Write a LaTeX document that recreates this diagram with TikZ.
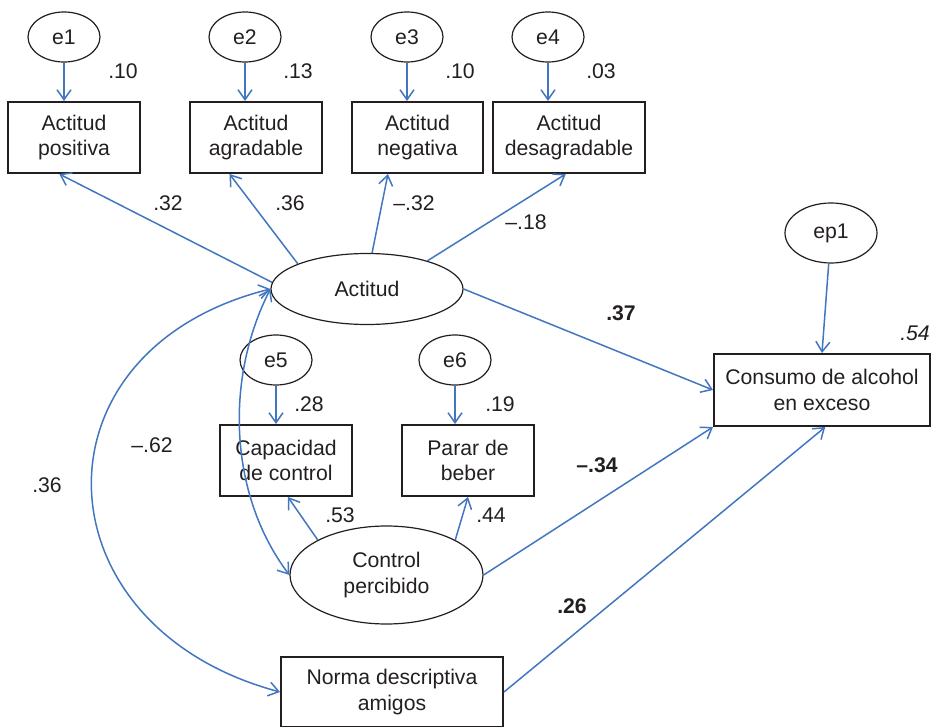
\documentclass[tikz,border=0pt]{standalone}
\usepackage{fontspec}
\setmainfont{Liberation Sans}
\usetikzlibrary{shapes.geometric,arrows.meta,calc}
\definecolor{pathblue}{RGB}{66,118,192}
\definecolor{ink}{RGB}{35,31,32}

\begin{document}
\begin{tikzpicture}[
    x=0.5pt,y=0.5pt,
    font=\fontsize{10.6}{12.7}\selectfont, text=ink,
    >={Straight Barb[length=5pt,width=7pt]},
    box/.style={draw=ink, line width=1pt, align=center, inner sep=0pt,
      minimum width=66pt, minimum height=35.5pt},
    err/.style={draw=ink, line width=0.6pt, ellipse, inner sep=0pt,
      minimum width=36pt, minimum height=25pt},
    lat/.style={draw=ink, line width=0.6pt, ellipse, inner sep=0pt, align=center},
    line/.style={pathblue, line width=0.75pt, ->},
    both/.style={pathblue, line width=0.75pt, <->}
    ]
    \useasboundingbox (0,0) rectangle (932,-727);
    \node[err] (e1) at (64,-37) {e1};
    \node[err] (e2) at (245,-37) {e2};
    \node[err] (e3) at (407,-37) {e3};
    \node[err] (e4) at (548,-37) {e4};
    \node[box] (pos) at (74,-137.5) {Actitud\\positiva};
    \node[box] (agr) at (256,-137.5) {Actitud\\agradable};
    \node[box, minimum width=65.5pt] (neg) at (417.5,-137.5) {Actitud\\negativa};
    \node[box, minimum width=76pt] (des) at (569,-137.5) {Actitud\\desagradable};
    \node[lat, minimum width=96pt, minimum height=35.5pt] (act) at (367,-289) {Actitud};
    \node[err, minimum width=46pt, minimum height=30pt] (ep1) at (831,-233) {ep1};
    \node[box, minimum width=108pt, minimum height=36pt] (cons) at (822,-390) {Consumo de alcohol\\en exceso};
    \node[err] (e5) at (276,-360) {e5};
    \node[err] (e6) at (455,-360) {e6};
    \node[box] (cap) at (286,-460.5) {Capacidad\\de control};
    \node[box] (par) at (468,-460.5) {Parar de\\beber};
    \node[lat, minimum width=96.5pt, minimum height=49pt] (ctrl) at (386.5,-575) {Control\\percibido};
    \node[box, minimum width=111pt, minimum height=35pt] (norma) at (392,-692) {Norma descriptiva\\amigos};

    \draw[line] (e1) -- (e1 |- pos.north);
    \draw[line] (e2) -- (e2 |- agr.north);
    \draw[line] (e3) -- (e3 |- neg.north);
    \draw[line] (e4) -- (e4 |- des.north);
    \draw[line] (e5) -- (e5 |- cap.north);
    \draw[line] (e6) -- (e6 |- par.north);
    \draw[line] (ep1) -- (cons.north);
    \draw[line] (act.176) -- (pos.248);
    \draw[line] (act.160) -- (agr.234);
    \draw[line] (act.82) -- (neg.231);
    \draw[line] (act.25) -- (des.265);
    \draw[line] (act.east) -- (cons.west);
    \draw[line] (ctrl.153) -- (cap.273);
    \draw[line] (ctrl.27) -- (par.south);
    \draw[line] (ctrl.east) -- (cons.south west);
    \draw[line] (norma.east) -- (cons.-85);
    \draw[both] (act.west) to[out=194, in=165, looseness=1.6] (norma.west);
    \draw[both] (act.west) to[out=243, in=127, looseness=0.9] (ctrl.west);

    \node (l1) at (123,-71) {.10};
    \node (l2) at (298,-71) {.13};
    \node (l3) at (460,-71) {.10};
    \node (l4) at (601,-71) {.03};
    \node (lpos) at (168,-203) {.32};
    \node (lagr) at (290,-203) {.36};
    \node (lneg) at (414,-203) {--.32};
    \node (ldes) at (526,-222) {--.18};
    \node[font=\fontsize{10.6}{12.7}\selectfont\bfseries] (lact) at (621,-313) {.37};
    \node[font=\fontsize{10.6}{12.7}\selectfont\itshape] (lcons) at (915,-333) {.54};
    \node (l5) at (309,-404) {.28};
    \node (l6) at (500,-404) {.19};
    \node (lcorr) at (152,-445) {--.62};
    \node (lnorm) at (47,-485) {.36};
    \node[font=\fontsize{10.6}{12.7}\selectfont\bfseries] (lctrl) at (597,-465) {--.34};
    \node (lcap) at (340,-515) {.53};
    \node (lpar) at (491,-515) {.44};
    \node[font=\fontsize{10.6}{12.7}\selectfont\bfseries] (lamig) at (572,-606) {.26};
  \end{tikzpicture}
\end{document}
